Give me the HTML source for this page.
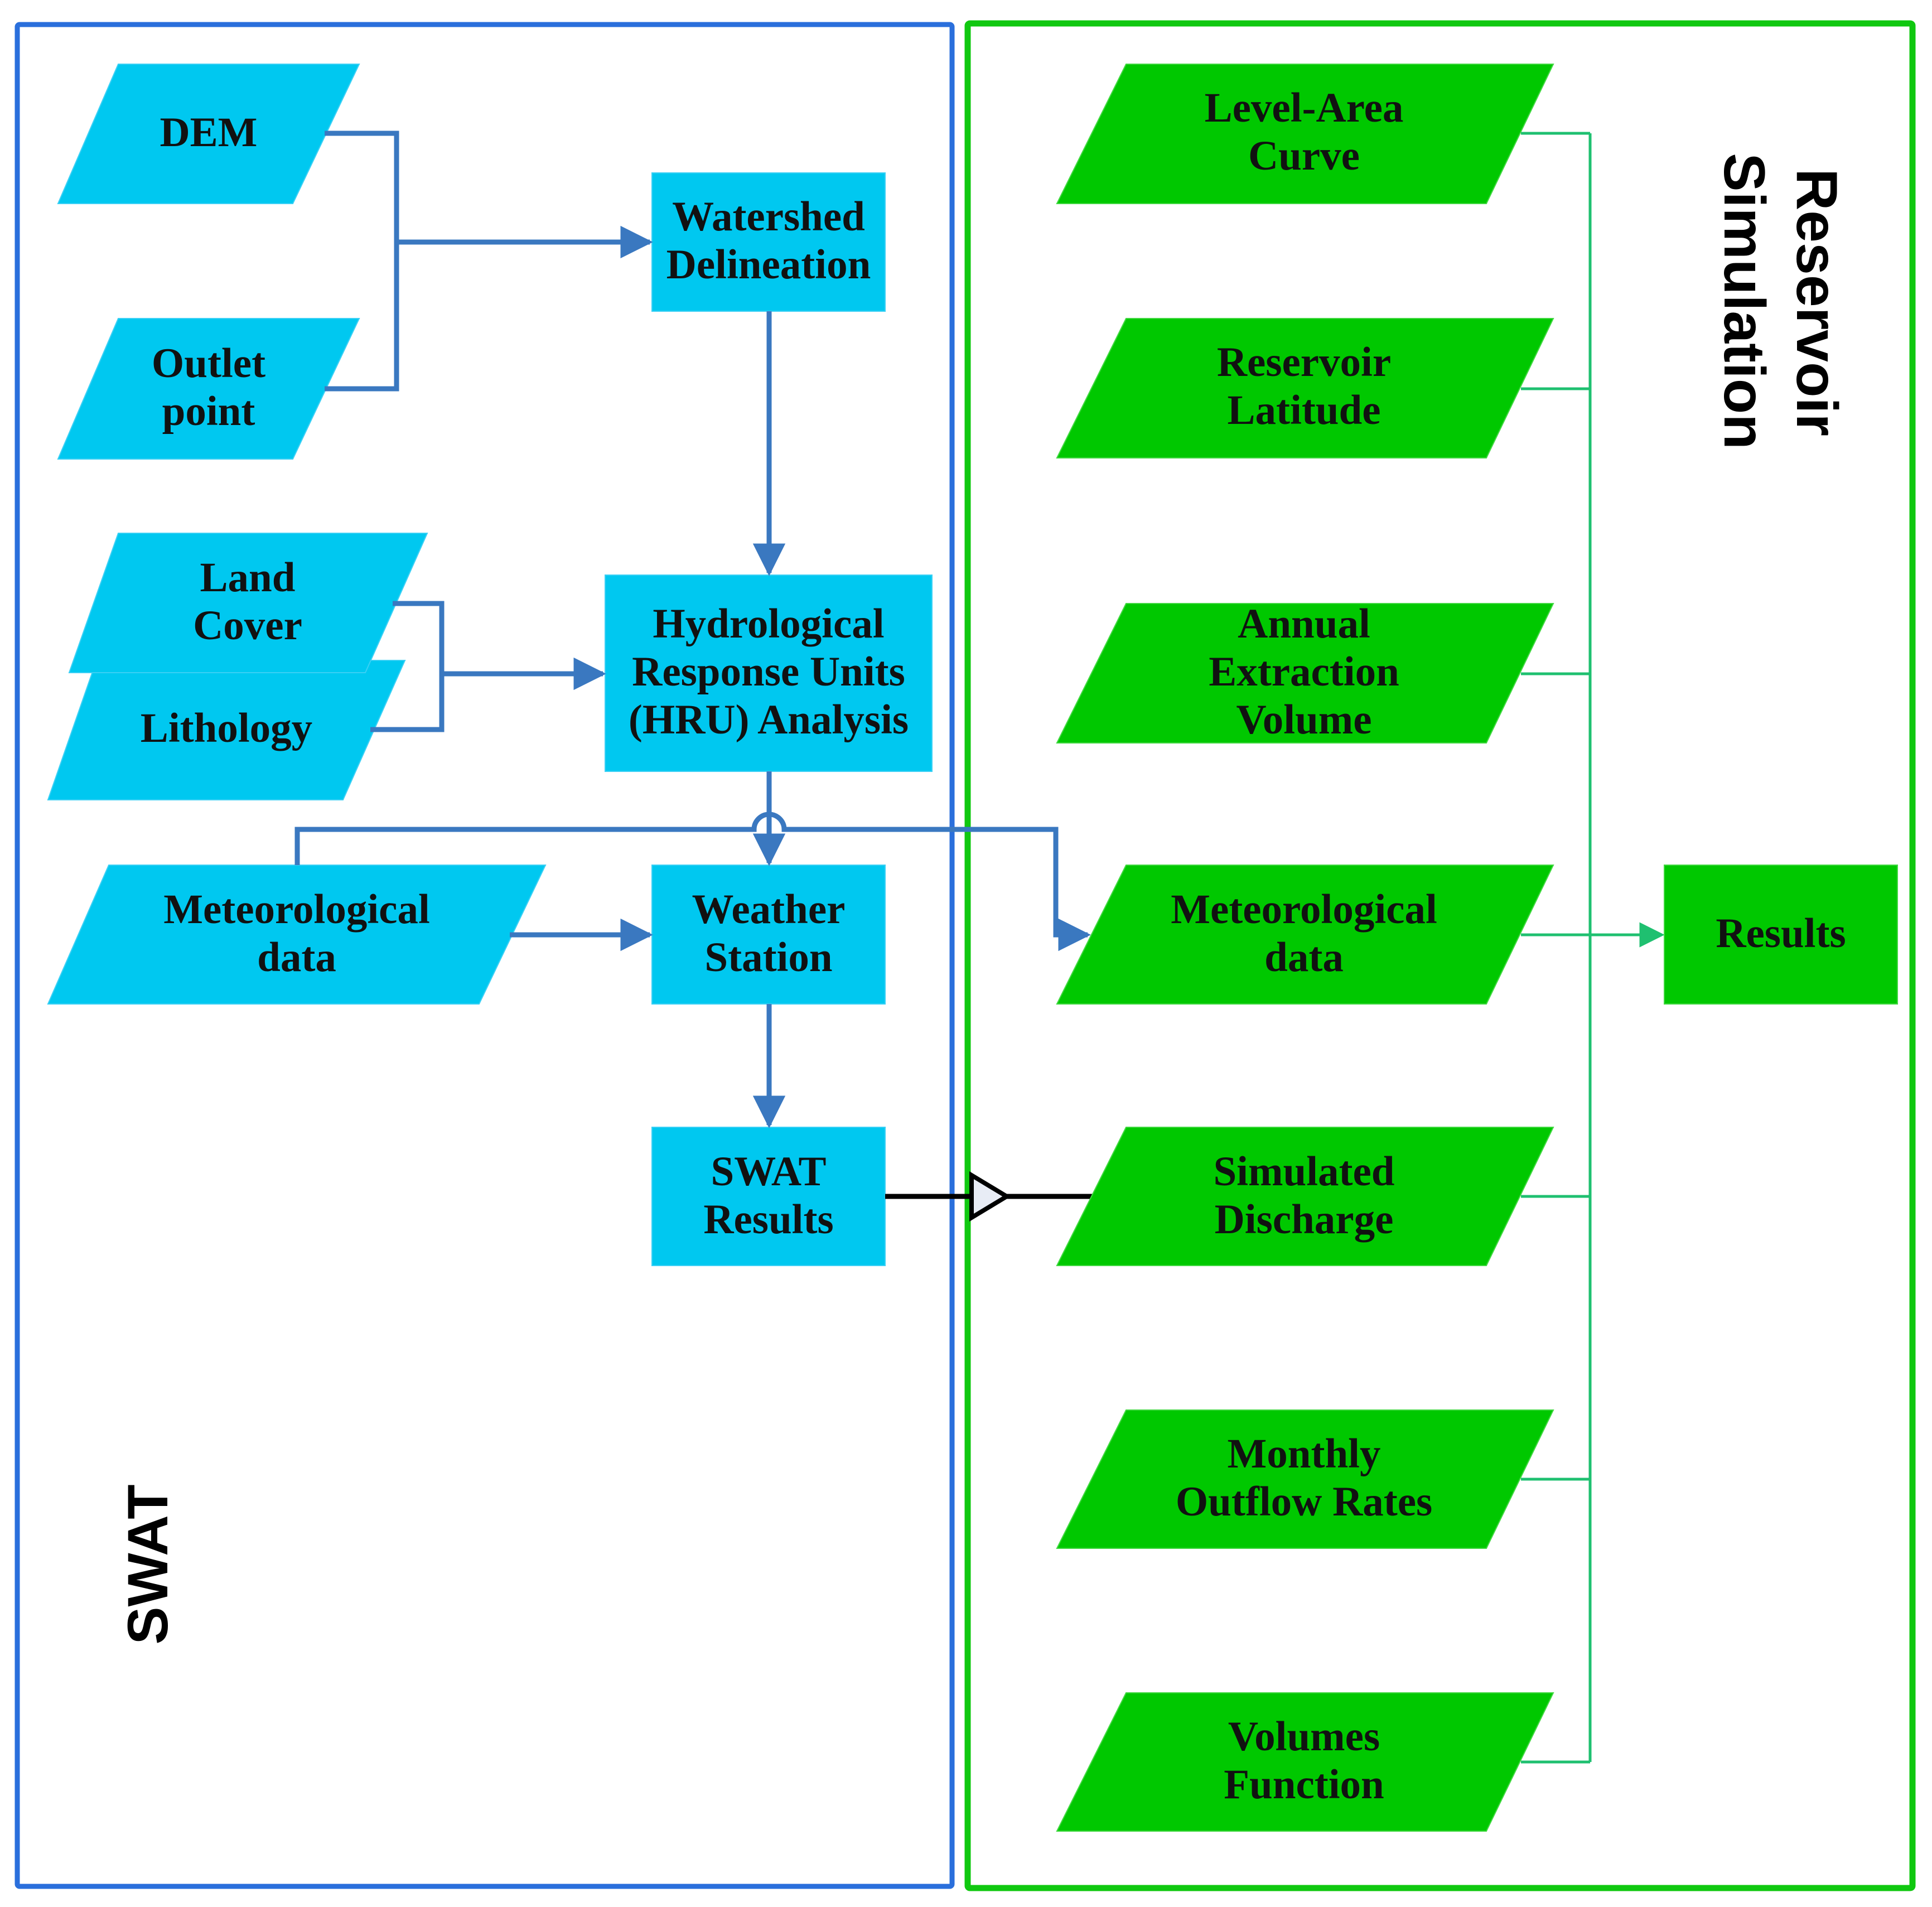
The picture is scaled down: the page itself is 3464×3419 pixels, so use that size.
<!DOCTYPE html>
<html><head><meta charset="utf-8"><style>html,body{margin:0;padding:0;background:#fff}svg{display:block}</style></head>
<body>
<svg xmlns="http://www.w3.org/2000/svg" width="3464" height="3419" viewBox="0 0 3464 3419">
<defs>
<marker id="ab" viewBox="0 0 10 10" refX="9" refY="5" markerWidth="6.5" markerHeight="6.5" markerUnits="strokeWidth" orient="auto"><path d="M0,0 L10,5 L0,10 z" fill="#3a78c0"/></marker>
<marker id="ag" viewBox="0 0 10 10" refX="9" refY="5" markerWidth="9" markerHeight="9" markerUnits="strokeWidth" orient="auto"><path d="M0,0 L10,5 L0,10 z" fill="#1fc070"/></marker>
</defs>
<rect x="31" y="44" width="1676" height="3338" fill="none" stroke="#2a6fdc" stroke-width="9" rx="4"/>
<rect x="1735" y="42" width="1694" height="3343" fill="none" stroke="#10c810" stroke-width="11" rx="4"/>

<g fill="#00c8f0" stroke="#3ad0f5" stroke-width="2">
<polygon points="212,115 644,115 525,365 104,365"/>
<polygon points="212,571 644,571 525,823 104,823"/>
<polygon points="173,1184 726,1184 615,1434 86,1434"/>
<polygon points="212,956 766,956 655,1206 124,1206"/>
<polygon points="195,1551 978,1551 859,1800 86,1800"/>
<rect x="1169" y="310" width="418" height="248"/>
<rect x="1085" y="1031" width="586" height="352"/>
<rect x="1169" y="1551" width="418" height="249"/>
<rect x="1169" y="2021" width="418" height="248"/>
</g>

<g fill="none" stroke="#3a78c0" stroke-width="9">
<polyline points="582,239 711,239 711,697 582,697"/>
<line x1="711" y1="434" x2="1165" y2="434" marker-end="url(#ab)"/>
<polyline points="704,1082 792,1082 792,1308 664,1308"/>
<line x1="792" y1="1208" x2="1081" y2="1208" marker-end="url(#ab)"/>
<line x1="1379" y1="558" x2="1379" y2="1027" marker-end="url(#ab)"/>
<line x1="1379" y1="1383" x2="1379" y2="1547" marker-end="url(#ab)"/>
<line x1="914" y1="1676" x2="1165" y2="1676" marker-end="url(#ab)"/>
<line x1="1379" y1="1800" x2="1379" y2="2017" marker-end="url(#ab)"/>
<path d="M533,1551 L533,1487 L1352,1487 A27,27 0 0 1 1406,1487 L1893,1487 L1893,1676 L1950,1676" marker-end="url(#ab)"/>
</g>

<g fill="none" stroke="#000" stroke-width="9">
<line x1="1587" y1="2145" x2="1742" y2="2145"/>
<line x1="1805" y1="2145" x2="1960" y2="2145"/>
<polygon points="1742,2107 1805,2145 1742,2183" fill="#e8ecf5" stroke-width="8"/>
</g>

<g fill="none" stroke="#1fc070" stroke-width="5">
<line x1="2851" y1="239" x2="2851" y2="3159"/>
<line x1="2727" y1="239" x2="2851" y2="239"/>
<line x1="2727" y1="697" x2="2851" y2="697"/>
<line x1="2727" y1="1208" x2="2851" y2="1208"/>
<line x1="2727" y1="2145" x2="2851" y2="2145"/>
<line x1="2727" y1="2652" x2="2851" y2="2652"/>
<line x1="2727" y1="3159" x2="2851" y2="3159"/>
<line x1="2727" y1="1676" x2="2980" y2="1676" marker-end="url(#ag)"/>
</g>

<g fill="#00c800" stroke="#40d840" stroke-width="2">
<polygon points="2019,115 2785,115 2665,365 1895,365"/>
<polygon points="2019,571 2785,571 2665,821 1895,821"/>
<polygon points="2019,1082 2785,1082 2665,1332 1895,1332"/>
<polygon points="2019,1551 2785,1551 2665,1800 1895,1800"/>
<polygon points="2019,2021 2785,2021 2665,2269 1895,2269"/>
<polygon points="2019,2528 2785,2528 2665,2776 1895,2776"/>
<polygon points="2019,3035 2785,3035 2665,3283 1895,3283"/>
<rect x="2984" y="1551" width="418" height="249"/>
</g>

<g font-family="Liberation Serif, serif" font-weight="bold" font-size="75" fill="#111" text-anchor="middle">
<text x="374" y="262">DEM</text>
<text x="374" y="676">Outlet</text><text x="374" y="762">point</text>
<text x="444" y="1060">Land</text><text x="444" y="1146">Cover</text>
<text x="406" y="1330">Lithology</text>
<text x="532" y="1655">Meteorological</text><text x="532" y="1741">data</text>
<text x="1378" y="413">Watershed</text><text x="1378" y="499">Delineation</text>
<text x="1378" y="1143">Hydrological</text><text x="1378" y="1229">Response Units</text><text x="1378" y="1315">(HRU) Analysis</text>
<text x="1378" y="1655">Weather</text><text x="1378" y="1741">Station</text>
<text x="1378" y="2125">SWAT</text><text x="1378" y="2211">Results</text>
<text x="2338" y="218">Level-Area</text><text x="2338" y="304">Curve</text>
<text x="2338" y="674">Reservoir</text><text x="2338" y="760">Latitude</text>
<text x="2338" y="1143">Annual</text><text x="2338" y="1229">Extraction</text><text x="2338" y="1315">Volume</text>
<text x="2338" y="1655">Meteorological</text><text x="2338" y="1741">data</text>
<text x="2338" y="2125">Simulated</text><text x="2338" y="2211">Discharge</text>
<text x="2338" y="2631">Monthly</text><text x="2338" y="2717">Outflow Rates</text>
<text x="2338" y="3138">Volumes</text><text x="2338" y="3224">Function</text>
<text x="3193" y="1698">Results</text>
</g>

<g font-family="Liberation Sans, Arial, sans-serif" font-weight="bold" font-size="104" fill="#000" text-anchor="middle">
<text transform="translate(3222,542) rotate(90)">Reservoir</text>
<text transform="translate(3092,540) rotate(90)">Simulation</text>
<text transform="translate(300,2805) rotate(-90)" font-size="102">SWAT</text>
</g>
</svg>
</body></html>
